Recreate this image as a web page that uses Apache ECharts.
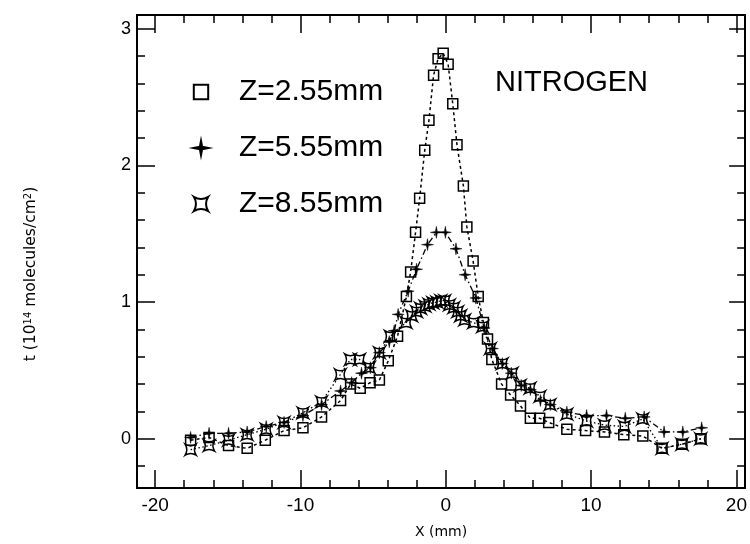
<!DOCTYPE html>
<html><head><meta charset="utf-8">
<script src="https://cdn.jsdelivr.net/npm/echarts@6/dist/echarts.min.js"></script>
<style>html,body{margin:0;padding:0;background:#fff}#c{width:750px;height:544px}</style>
</head><body><div id="c"></div>
<script>
// ---- data ----
const seriesNames = ['Z=2.55mm', 'Z=5.55mm', 'Z=8.55mm'];

const z255X = [-17.56,-16.29,-14.95,-13.67,-12.42,-11.13,-9.83,-8.55,-7.24,-6.55,
  -5.89,-5.21,-4.57,-3.96,-3.32,-2.71,-2.42,-2.08,-1.80,-1.45,
  -1.16,-0.84,-0.53,-0.18,0.16,0.48,0.77,1.21,1.45,1.88,
  2.23,2.59,2.87,3.17,3.84,4.46,5.14,5.82,6.46,7.08,
  8.33,9.62,10.92,12.25,13.56,14.88,16.25,17.56];
const z255Y = [-0.01,0.01,-0.05,-0.07,-0.01,0.06,0.08,0.16,0.28,0.40,
  0.37,0.41,0.43,0.57,0.75,1.04,1.22,1.51,1.76,2.11,
  2.33,2.66,2.78,2.82,2.74,2.45,2.15,1.85,1.55,1.30,
  1.04,0.85,0.73,0.58,0.40,0.32,0.24,0.15,0.15,0.12,
  0.07,0.06,0.05,0.03,0.02,-0.07,-0.04,0.00];

const z555X = [-17.56,-16.29,-14.95,-13.67,-12.36,-11.13,-9.83,-8.55,-7.24,-6.48,
  -5.80,-5.19,-4.57,-3.89,-3.55,-3.28,-2.59,-2.01,-1.26,-0.65,
  -0.03,0.70,1.33,2.07,2.64,3.21,3.89,4.51,5.19,5.82,
  6.51,7.19,8.33,9.69,11.06,12.35,13.65,15.02,16.31,17.61];
const z555Y = [0.01,0.04,0.04,0.05,0.09,0.12,0.17,0.25,0.35,0.41,
  0.48,0.52,0.63,0.71,0.79,0.91,1.08,1.24,1.42,1.51,
  1.51,1.39,1.20,1.03,0.81,0.66,0.55,0.48,0.39,0.36,
  0.28,0.25,0.195,0.17,0.17,0.15,0.16,0.05,0.05,0.08];

const z855X = [-17.56,-16.29,-14.95,-13.67,-12.36,-11.13,-9.83,-8.55,-7.26,-6.57,
  -5.94,-5.26,-4.57,-3.82,-2.73,-2.35,-2.01,-1.74,-1.43,-1.16,
  -0.89,-0.61,-0.34,-0.07,0.25,0.55,0.82,1.02,1.30,1.91,
  2.53,3.07,3.89,4.57,5.12,5.80,6.48,7.17,8.33,9.69,
  10.92,12.29,13.55,14.88,16.25,17.54];
const z855Y = [-0.08,-0.05,-0.01,0.03,0.07,0.12,0.19,0.27,0.47,0.58,
  0.58,0.52,0.63,0.75,0.85,0.90,0.93,0.955,0.97,0.985,
  0.995,1.0,1.01,1.01,0.98,0.96,0.93,0.90,0.87,0.85,
  0.82,0.66,0.55,0.48,0.39,0.37,0.31,0.25,0.18,0.13,
  0.10,0.09,0.145,-0.07,-0.04,0.0];

const xMajorTicks = [-20, -10, 0, 10, 20];
const xMinorTicks = [-18,-16,-14,-12,-8,-6,-4,-2,2,4,6,8,12,14,16,18];
const yMajorTicks = [0, 1, 2, 3];
const yMinorTicks = [-0.2,0.2,0.4,0.6,0.8,1.2,1.4,1.6,1.8,2.2,2.4,2.6,2.8];

const xAxisTitle = 'X (mm)';
const yAxisTitle = 't (10{s|14} molecules/cm{s|2})';
const annotation = 'NITROGEN';

// ---- chart ----
const XMIN = -21.25, XMAX = 20.6, YMIN = -0.36, YMAX = 3.1;
const BLACK = '#000';
const labelFont = 'Liberation Sans';

function pairs(xs, ys) { return xs.map((x, i) => [x, ys[i]]); }

function xAx(pos, ticks, len, showLabels, extra) {
  return Object.assign({
    type: 'value', position: pos, min: XMIN, max: XMAX,
    axisLine: { show: true, onZero: false, lineStyle: { color: BLACK, width: 2 } },
    axisTick: { show: true, inside: true, length: len, customValues: ticks, lineStyle: { color: BLACK, width: 1.5 } },
    axisLabel: { show: showLabels, customValues: ticks, color: BLACK, fontSize: 19, fontFamily: labelFont, margin: 8 },
    splitLine: { show: false }, minorTick: { show: false }
  }, extra || {});
}
function yAx(pos, ticks, len, showLabels) {
  return {
    type: 'value', position: pos, min: YMIN, max: YMAX,
    axisLine: { show: true, onZero: false, lineStyle: { color: BLACK, width: 2 } },
    axisTick: { show: true, inside: true, length: len, customValues: ticks, lineStyle: { color: BLACK, width: 1.5 } },
    axisLabel: { show: showLabels, customValues: ticks, color: BLACK, fontSize: 18, fontFamily: labelFont, margin: 6 },
    splitLine: { show: false }, minorTick: { show: false }
  };
}

const starPath = 'path://M10,0 L11.6,8.4 L20,10 L11.6,11.6 L10,20 L8.4,11.6 L0,10 L8.4,8.4 Z';
const hourPath = 'path://M0,0 Q10,6 20,0 Q14,10 20,20 Q10,14 0,20 Q6,10 0,0 Z';

const chart = echarts.init(document.getElementById('c'), null, { renderer: 'canvas' });
chart.setOption({
  backgroundColor: '#fff',
  animation: false,
  grid: { left: 137, right: 1, top: 15, bottom: 50, containLabel: false },
  xAxis: [
    xAx('bottom', xMajorTicks, 18, true, {
      name: xAxisTitle, nameLocation: 'middle', nameGap: 37,
      nameTextStyle: { fontSize: 14, fontFamily: 'DejaVu Sans', color: BLACK }
    }),
    xAx('bottom', xMinorTicks, 8, false),
    xAx('top', xMajorTicks, 18, false),
    xAx('top', xMinorTicks, 8, false)
  ],
  yAxis: [
    yAx('left', yMajorTicks, 18, true),
    yAx('left', yMinorTicks, 8, false),
    yAx('right', yMajorTicks, 16, false),
    yAx('right', yMinorTicks, 8, false)
  ],
  legend: {
    show: true, orient: 'vertical', left: 187, top: 72,
    itemWidth: 18, itemHeight: 18, itemGap: 26,
    selectedMode: false,
    data: seriesNames,
    lineStyle: { opacity: 0, width: 0 },
    textStyle: { fontSize: 30, lineHeight: 30, fontFamily: labelFont, color: BLACK, padding: [0, 0, 0, 24] }
  },
  graphic: [
    { type: 'text', left: 495, top: 68, style: { text: annotation, fontSize: 29, fontFamily: labelFont, fill: BLACK } },
    { type: 'text', x: 31, y: 274, rotation: Math.PI / 2,
      style: { text: yAxisTitle, fontSize: 15.5, fontFamily: 'DejaVu Sans', fill: BLACK,
        align: 'center', verticalAlign: 'middle',
        rich: { s: { fontSize: 10, fontFamily: 'DejaVu Sans', verticalAlign: 'top', fill: BLACK } } } }
  ],
  series: [
    { name: seriesNames[0], type: 'line', data: pairs(z255X, z255Y),
      symbol: 'rect', symbolSize: 10, showAllSymbol: true,
      itemStyle: { color: 'rgba(255,255,255,0)', borderColor: BLACK, borderWidth: 1.5 },
      lineStyle: { color: BLACK, width: 1.5, type: [3, 3] } },
    { name: seriesNames[1], type: 'line', data: pairs(z555X, z555Y),
      symbol: starPath, symbolSize: 12, showAllSymbol: true,
      itemStyle: { color: BLACK, borderColor: BLACK, borderWidth: 0.5 },
      lineStyle: { color: BLACK, width: 1.3, type: [6, 3, 1.5, 3] } },
    { name: seriesNames[2], type: 'line', data: pairs(z855X, z855Y),
      symbol: hourPath, symbolSize: 11, showAllSymbol: true,
      itemStyle: { color: 'rgba(255,255,255,0)', borderColor: BLACK, borderWidth: 1.5 },
      lineStyle: { color: BLACK, width: 1.3, type: [1.5, 2.5] } }
  ]
});
</script></body></html>
